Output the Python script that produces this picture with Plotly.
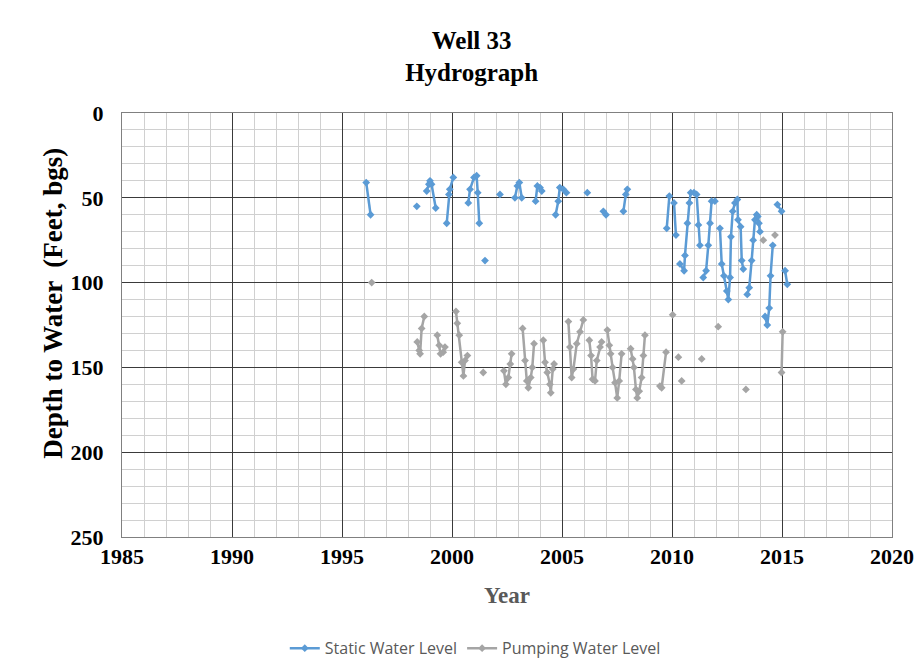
import plotly.graph_objects as go

# Static water level (None = break in the line)
static_year = [
    1996.1, 1996.3, None,
    1998.4, None,
    1998.85, 1998.95, 1999.0, 1999.07, 1999.26, None,
    1999.76, 1999.86, 1999.9, 2000.06, None,
    2000.74, 2000.82, 2001.0, 2001.12, 2001.17, 2001.24, None,
    2001.5, None,
    2002.18, None,
    2002.86, 2002.97, 2003.06, 2003.17, None,
    2003.8, 2003.88, 2004.0, 2004.08, None,
    2004.71, 2004.83, 2004.9, 2005.06, 2005.2, None,
    2006.15, None,
    2006.88, 2007.0, None,
    2007.79, 2007.9, 2007.97, None,
    2009.76, 2009.88, None,
    2010.09, 2010.18, None,
    2010.36, 2010.55, 2010.59, 2010.7, 2010.79, 2010.85, 2011.0, 2011.12, 2011.2, 2011.27, None,
    2011.42, 2011.55, 2011.65, 2011.73, 2011.8, 2011.95, None,
    2012.18, 2012.26, 2012.36, 2012.49, 2012.56, 2012.64, 2012.68, 2012.76, 2012.86, 2012.97,
    2013.0, 2013.12, 2013.17, 2013.24, None,
    2013.42, 2013.51, 2013.62, 2013.69, 2013.77, 2013.85, 2013.9, 2013.95, 2014.0, None,
    2014.23, 2014.33, 2014.42, 2014.48, 2014.58, None,
    2014.79, 2014.98, None,
    2015.14, 2015.24,
]
static_depth = [
    41, 60, None,
    55, None,
    46, 42, 40, 42, 56, None,
    65, 48, 45, 38, None,
    53, 45, 38, 37, 47, 65, None,
    87, None,
    48, None,
    50, 43, 41, 50, None,
    52, 43, 44, 46, None,
    60, 52, 44, 45, 47, None,
    47, None,
    58, 60, None,
    58, 48, 45, None,
    68, 49, None,
    53, 72, None,
    89, 93, 84, 65, 53, 47, 47, 48, 66, 78, None,
    97, 93, 78, 65, 52, 52, None,
    68, 89, 96, 105, 110, 97, 73, 58, 53, 51,
    63, 67, 87, 92, None,
    107, 103, 87, 75, 63, 60, 61, 65, 70, None,
    120, 125, 115, 96, 78, None,
    54, 58, None,
    93, 101,
]

# Pumping water level
pump_year = [
    1996.35, None,
    1998.42, 1998.51, 1998.55, 1998.62, 1998.74, None,
    1999.33, 1999.42, 1999.48, 1999.6, 1999.68, None,
    2000.18, 2000.24, 2000.33, 2000.44, 2000.52, 2000.59, 2000.7, None,
    2001.42, None,
    2002.36, 2002.45, 2002.56, 2002.65, 2002.71, None,
    2003.21, 2003.32, 2003.4, 2003.47, 2003.58, 2003.65, 2003.73, None,
    2004.15, 2004.23, 2004.33, 2004.45, 2004.49, 2004.58, 2004.64, None,
    2005.29, 2005.36, 2005.44, 2005.52, 2005.67, 2005.82, 2005.97, None,
    2006.24, 2006.32, 2006.39, 2006.5, 2006.58, 2006.73, 2006.8, None,
    2007.06, 2007.15, 2007.21, 2007.3, 2007.41, 2007.51, 2007.6, 2007.71, None,
    2008.12, 2008.21, 2008.27, 2008.36, 2008.42, 2008.51, 2008.62, 2008.7, 2008.77, None,
    2009.45, 2009.53, 2009.73, None,
    2010.03, None,
    2010.29, None,
    2010.44, None,
    2011.35, None,
    2012.1, None,
    2013.36, None,
    2014.15, None,
    2014.68, None,
    2014.98, 2015.03,
]
pump_depth = [
    100, None,
    135, 140, 142, 127, 120, None,
    131, 137, 142, 141, 138, None,
    117, 124, 131, 147, 155, 146, 143, None,
    153, None,
    152, 160, 156, 148, 142, None,
    127, 146, 158, 162, 156, 150, 136, None,
    134, 147, 153, 160, 165, 151, 148, None,
    123, 138, 156, 151, 136, 129, 122, None,
    134, 143, 157, 158, 146, 138, 135, None,
    128, 137, 142, 150, 159, 168, 158, 142, None,
    139, 145, 150, 163, 168, 164, 156, 143, 131, None,
    161, 162, 141, None,
    119, None,
    144, None,
    158, None,
    145, None,
    126, None,
    163, None,
    75, None,
    72, None,
    153, 129,
]

serif = "Liberation Serif"

fig = go.Figure()
fig.add_trace(go.Scatter(
    x=static_year, y=static_depth, name="Static Water Level",
    mode="lines+markers", connectgaps=False,
    line=dict(color="#5B9BD5", width=2.5),
    marker=dict(symbol="diamond", size=6, color="#5B9BD5"),
))
fig.add_trace(go.Scatter(
    x=pump_year, y=pump_depth, name="Pumping Water Level",
    mode="lines+markers", connectgaps=False,
    line=dict(color="#A5A5A5", width=2.5),
    marker=dict(symbol="diamond", size=6, color="#A5A5A5"),
))

fig.update_layout(
    width=914, height=659,
    margin=dict(l=122, r=22, t=113, b=122),
    paper_bgcolor="white", plot_bgcolor="white",
    title=dict(text="<b>Well 33<br>Hydrograph</b>", x=0.516, xanchor="center",
               y=0.926, yanchor="top",
               font=dict(family=serif, size=25, color="black")),
    legend=dict(orientation="h", xref="container", x=0.52, xanchor="center",
                yref="container", y=0.042, yanchor="top",
                font=dict(family="Open Sans", size=16, color="#595959")),
)
# y title as an annotation: it sits a little above the middle of the axis
fig.add_annotation(
    text="<b>Depth to Water  (Feet, bgs)</b>", textangle=-90,
    xref="paper", yref="paper", x=-0.09, y=0.552, xanchor="center", yanchor="middle",
    showarrow=False, font=dict(family=serif, size=27, color="black"),
)
fig.update_xaxes(
    range=[1985, 2020], dtick=5, tick0=1985, showline=True, linecolor="#808080", mirror=True,
    gridcolor="#3a3a3a", gridwidth=1, zeroline=False, automargin=False,
    minor=dict(dtick=1, showgrid=True, gridcolor="#d0d0d0", gridwidth=1),
    tickfont=dict(family=serif, size=22, color="black"), tickprefix="<b>", ticksuffix="</b>",
    title=dict(text="<b>Year</b>", font=dict(family=serif, size=23, color="#595959"), standoff=18),
)
fig.update_yaxes(
    range=[250, 0], dtick=50, tick0=0, showline=True, linecolor="#808080", mirror=True,
    gridcolor="#3a3a3a", gridwidth=1, zeroline=False, automargin=False,
    minor=dict(dtick=10, showgrid=True, gridcolor="#d0d0d0", gridwidth=1),
    tickfont=dict(family=serif, size=22, color="black"), tickprefix="<b>", ticksuffix="</b>",
    ticklabelstandoff=13,
)

# drop the browser's default body margin so the figure sits at the window's corner
fig.write_html("out.html", config={"displayModeBar": False},
               post_script="document.body.style.margin='0';")
